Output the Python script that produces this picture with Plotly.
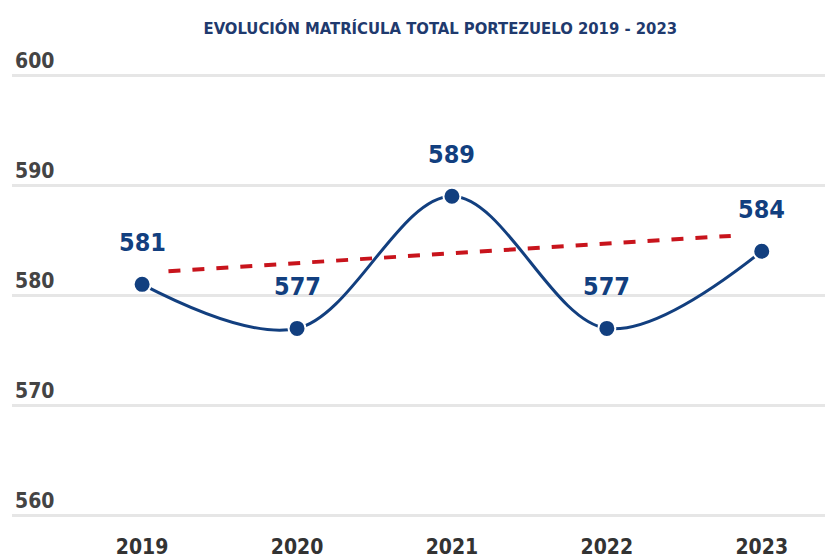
import plotly.graph_objects as go

anios = [2019, 2020, 2021, 2022, 2023]
matricula = [581, 577, 589, 577, 584]
# linea de tendencia
tend_x = [2019.17, 2022.8]
tend_y = [582.2, 585.4]

azul = '#123f7f'
rojo = '#c8141c'
fuente = 'DejaVu Sans Condensed'

fig = go.Figure()
fig.add_trace(go.Scatter(x=tend_x, y=tend_y, mode='lines',
                         line=dict(color=rojo, width=4, dash='dash'),
                         showlegend=False, hoverinfo='skip'))
fig.add_trace(go.Scatter(x=anios, y=matricula, mode='lines+markers',
                         line=dict(color=azul, width=3, shape='spline', smoothing=1),
                         marker=dict(size=17, color=azul, line=dict(color='white', width=2)),
                         showlegend=False))

for a, m in zip(anios, matricula):
    fig.add_annotation(x=a, y=m, text=str(m), showarrow=False, yshift=42,
                       font=dict(family=fuente, size=25, color=azul, weight='bold'))

# la pagina tiene 8px de margen en el body
fig.update_layout(
    width=825, height=551,
    margin=dict(l=4, r=0, t=34, b=38),
    paper_bgcolor='white', plot_bgcolor='white',
    title=dict(text='EVOLUCIÓN MATRÍCULA TOTAL PORTEZUELO 2019 - 2023',
               x=0.524, xanchor='center', y=0.964, yanchor='middle',
               font=dict(family=fuente, size=16.5, color='#1f3a6e', weight='bold')),
)
fig.update_xaxes(range=[2018.16, 2023.46], tickvals=anios, showgrid=False, zeroline=False,
                 showline=False, ticks='outside', ticklen=9, tickcolor='rgba(0,0,0,0)',
                 tickfont=dict(family=fuente, size=21, color='#333333', weight='bold'))
fig.update_yaxes(range=[559.7, 603], tickvals=[560, 570, 580, 590, 600], showgrid=True,
                 gridcolor='#e6e6e6', gridwidth=3,
                 zeroline=False, showline=False, ticklabelposition='inside top',
                 tickfont=dict(family=fuente, size=21, color='#444444', weight='bold'))

fig.write_html('out.html')
